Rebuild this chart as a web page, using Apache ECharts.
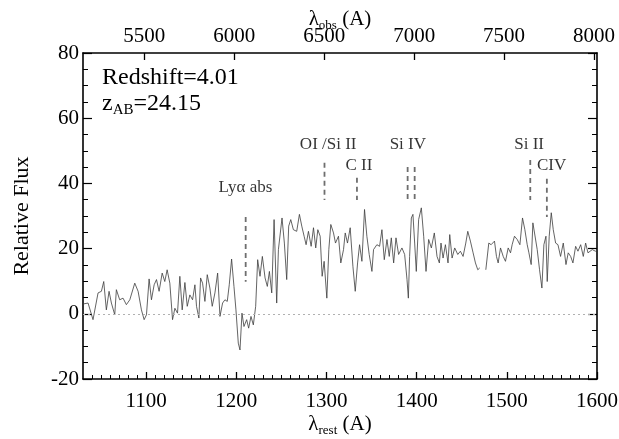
<!DOCTYPE html>
<html>
<head>
<meta charset="utf-8">
<script src="https://cdn.jsdelivr.net/npm/echarts@6/dist/echarts.min.js"></script>
<style>html,body{margin:0;padding:0;background:#fff}#c{width:619px;height:439px}</style>
</head>
<body>
<div id="c"></div>
<script>
// ---- data ----
const redshift = 4.01;
const zAB = 24.15;
const restTicks = [1100, 1200, 1300, 1400, 1500, 1600];
const obsTicks = [5500, 6000, 6500, 7000, 7500, 8000];
const restMinorTicks = [];
for (let v = 1040; v < 1600; v += 10) restMinorTicks.push(v);

const lambdaRest = [
1030,1031.9,1035.6,1041.1,1046.7,1050.4,1053.0,1055.9,1058.9,1061.5,1065.2,1067.0,1070.7,1074.4,1078.1,1081.9,1087.4,1091.1,1094.8,1097.8,
1100.4,1103.3,1105.9,1108.9,1111.5,1114.4,1117.8,1120.7,1123.3,1126.3,1129.3,1131.9,1134.8,1137.4,1140.0,1143.0,1145.6,1148.5,1151.5,1154.1,
1155.9,1158.5,1160.4,1162.6,1165.2,1167.8,1170.7,1173.3,1176.3,1179.3,1181.9,1184.8,1187.4,1190.0,1192.2,1194.8,1197.4,1199.6,1202.2,1204.1,
1206.3,1208.5,1211.5,1213.7,1216.3,1218.9,1221.5,1223.7,1226.3,1228.9,1231.9,1234.4,1236.7,1239.3,1241.9,1244.8,1246.7,1248.5,1250.7,1253.3,
1255.9,1258.1,1260.4,1263.3,1267.0,1270.0,1272.6,1275.2,1277.4,1280.0,1283.0,1285.6,1288.1,1290.4,1293.0,1295.2,1297.4,1300.4,1302.6,1304.8,
1307.8,1310.0,1313.3,1315.9,1318.9,1320.8,1323.3,1326.3,1329.3,1331.9,1334.5,1336.7,1339.3,1342.2,1344.8,1347.4,1350.4,1352.2,1355.9,1358.9,
1361.5,1364.1,1367.1,1369.6,1371.9,1374.5,1377.1,1380.0,1383.7,1386.7,1389.3,1390.8,1392.2,1394.1,1395.9,1397.8,1399.6,1402.2,1405.2,1407.8,
1410.4,1413.3,1416.3,1419.6,1422.6,1425.2,1427.0,1429.3,1431.9,1434.8,1436.7,1439.3,1442.2,1445.6,1448.5,1451.5,1454.5,1456.7,1459.6,1462.6,
1465.2,1467.8,1470.0,1473.0,1476.7,1480.0,1482.6,1486.3,1488.5,1490.4,1493.0,1496.0,1498.5,1501.5,1504.1,1505.9,1508.5,1511.5,1514.5,1517.4,
1520.0,1522.6,1524.5,1527.0,1528.9,1531.1,1533.7,1536.3,1538.9,1541.1,1543.4,1544.8,1547.0,1549.3,1551.5,1554.1,1556.7,1559.6,1562.6,1565.6,
1568.1,1570.8,1573.3,1576.3,1578.9,1581.9,1584.8,1587.4,1590.0,1592.2,1594.8,1598.2,1600
];
const flux = [
3.0,3.3,3.3,-1.8,6.4,6.9,9.9,1.2,6.9,3.3,-0.3,7.4,4.3,4.8,2.8,4.3,9.4,6.9,1.2,-1.8,
-0.3,10.7,4.3,8.9,10.5,6.9,12.5,9.9,13.5,9.4,-1.8,1.7,0.2,11.5,1.2,9.6,2.3,5.8,4.3,8.9,
2.3,-1.3,11.0,9.4,3.8,12.0,7.9,2.3,6.4,12.5,-0.8,3.3,4.3,3.8,8.9,16.8,8.4,1.2,-9.0,-11.1,
0.2,-3.9,-1.8,-4.4,-0.8,-3.4,2.3,16.6,11.5,17.6,11.0,8.4,13.0,6.4,28.9,3.3,19.7,19.2,29.4,21.7,
10.5,26.9,28.9,25.8,25.3,30.5,26.9,23.8,21.2,25.3,20.7,26.4,20.2,25.8,23.8,11.5,16.1,4.8,19.7,27.4,
24.8,21.7,23.8,15.6,19.7,24.8,21.7,26.4,14.6,6.9,15.6,21.2,16.1,32.0,23.8,18.2,13.0,19.7,21.2,20.7,
25.8,16.6,22.8,17.6,23.3,15.6,23.3,18.2,20.2,18.2,10.5,4.8,17.6,29.4,30.5,21.7,13.0,28.9,32.5,23.8,
13.0,22.8,20.2,24.8,17.6,15.6,21.7,17.1,21.2,15.6,24.3,17.1,20.2,18.2,19.2,17.6,21.7,25.3,22.3,18.7,
15.6,13.5,14.1,null,13.5,21.7,21.2,22.3,17.6,15.6,20.2,17.6,16.1,20.2,18.7,21.2,23.8,22.8,21.2,29.4,
25.8,21.2,18.7,15.1,27.9,27.4,19.7,13.5,7.9,21.2,23.8,9.9,23.8,31.0,25.8,21.7,21.2,17.6,21.7,15.1,
18.7,17.6,15.6,20.7,19.2,21.2,17.6,21.7,18.7,18.2,19.7,19.2,19.5
];

// line identification markers (rest wavelength, dashed segment top / bottom in flux units)
const markerLambda = [1210.4, 1297.8, 1333.8, 1390.0, 1397.8, 1526.0, 1544.4];
const markerTop    = [29.7, 46.3, 41.7, 45.0, 45.0, 47.2, 41.4];
const markerBottom = [9.8, 34.9, 34.9, 34.9, 34.9, 34.9, 29.7];

const lineLabelNames  = ['Lyα abs', 'OI /Si II', 'C II', 'Si IV', 'Si II', 'CIV'];
const lineLabelLambda = [1210.2, 1301.9, 1336.0, 1390.2, 1524.7, 1549.7];
const lineLabelFlux   = [38.7, 51.8, 45.6, 51.8, 51.8, 45.6];

// ---- chart ----
const FONT = 'Liberation Serif';
const xMin = 1030, xMax = 1600;
const specData = lambdaRest.map((l, i) => [l, flux[i]]);
const plain = v => String(Math.round(v));

const series = [];
series.push({
  type: 'line', data: specData, xAxisIndex: 0, yAxisIndex: 0,
  showSymbol: false, symbol: 'none', connectNulls: false, animation: false,
  lineStyle: { color: '#3c3c3c', width: 0.8 },
  markLine: {
    silent: true, symbol: 'none', animation: false,
    label: { show: false },
    lineStyle: { type: [2, 3], color: '#b0b0b0', width: 1 },
    data: [{ yAxis: 0 }]
  },
  z: 3
});
markerLambda.forEach((l, i) => {
  series.push({
    type: 'line', xAxisIndex: 0, yAxisIndex: 0, symbol: 'none', animation: false,
    data: [[l, markerTop[i]], [l, markerBottom[i]]],
    lineStyle: { color: '#6e6e6e', width: 1.8, type: [5, 4] }, z: 2
  });
});
series.push({
  type: 'scatter', xAxisIndex: 0, yAxisIndex: 0, symbolSize: 0, animation: false,
  data: lineLabelNames.map((n, i) => ({ name: n, value: [lineLabelLambda[i], lineLabelFlux[i]] })),
  label: { show: true, position: 'inside', formatter: p => p.name, color: '#000',
           fontFamily: FONT, fontSize: 17 },
  z: 5
});

const axisLineStyle = { color: '#000', width: 1.6 };
const option = {
  backgroundColor: '#fff',
  animation: false,
  grid: { left: 83, right: 22, top: 53, bottom: 60, containLabel: false, outerBoundsMode: 'none' },
  xAxis: [
    {
      type: 'value', position: 'bottom', min: xMin, max: xMax,
      axisLine: { show: true, onZero: false, lineStyle: axisLineStyle },
      axisTick: { show: true, inside: true, length: 7, lineStyle: { color: '#000', width: 1.3 }, customValues: restTicks },
      axisLabel: { show: true, customValues: restTicks, formatter: plain, color: '#000', fontFamily: FONT, fontSize: 21, margin: 12 },
      splitLine: { show: false },
      name: '{a|λ}{b|rest}{a| (A)}', nameLocation: 'middle', nameGap: 32, nameMoveOverlap: false,
      nameTextStyle: { rich: {
        a: { fontFamily: FONT, fontSize: 21, color: '#000', lineHeight: 26 },
        b: { fontFamily: FONT, fontSize: 13, color: '#000', verticalAlign: 'bottom', lineHeight: 13 }
      } }
    },
    {
      type: 'value', position: 'bottom', min: xMin, max: xMax,
      axisLine: { show: false, onZero: false },
      axisTick: { show: true, inside: true, length: 4, lineStyle: { color: '#000', width: 1 }, customValues: restMinorTicks },
      axisLabel: { show: false },
      splitLine: { show: false }
    },
    {
      type: 'value', position: 'top', min: xMin * (1 + redshift), max: xMax * (1 + redshift),
      axisLine: { show: true, onZero: false, lineStyle: axisLineStyle },
      axisTick: { show: true, inside: true, length: 7, lineStyle: { color: '#000', width: 1.3 }, customValues: obsTicks },
      axisLabel: { show: true, customValues: obsTicks, formatter: plain, color: '#000', fontFamily: FONT, fontSize: 21, margin: 6 },
      splitLine: { show: false },
      name: '{a|λ}{b|obs}{a| (A)}', nameLocation: 'middle', nameGap: 21, nameMoveOverlap: false,
      nameTextStyle: { rich: {
        a: { fontFamily: FONT, fontSize: 21, color: '#000', lineHeight: 26 },
        b: { fontFamily: FONT, fontSize: 13, color: '#000', verticalAlign: 'bottom', lineHeight: 13 }
      } }
    }
  ],
  yAxis: [
    {
      type: 'value', position: 'left', min: -20, max: 80, interval: 20,
      axisLine: { show: true, onZero: false, lineStyle: axisLineStyle },
      axisTick: { show: true, inside: true, length: 9, lineStyle: { color: '#000', width: 1.2 } },
      minorTick: { show: true, splitNumber: 4, length: 5, lineStyle: { color: '#000', width: 1 } },
      axisLabel: { color: '#000', fontFamily: FONT, fontSize: 21, margin: 4 },
      splitLine: { show: false },
      name: 'Relative Flux', nameLocation: 'middle', nameGap: 50, nameMoveOverlap: false,
      nameTextStyle: { fontFamily: FONT, fontSize: 22, color: '#000' }
    },
    {
      type: 'value', position: 'right', min: -20, max: 80, interval: 20,
      axisLine: { show: true, onZero: false, lineStyle: axisLineStyle },
      axisTick: { show: true, inside: true, length: 9, lineStyle: { color: '#000', width: 1.2 } },
      minorTick: { show: true, splitNumber: 4, length: 5, lineStyle: { color: '#000', width: 1 } },
      axisLabel: { show: false },
      splitLine: { show: false }
    }
  ],
  graphic: [
    { type: 'text', left: 102, top: 66,
      style: { text: 'Redshift=' + redshift.toFixed(2), fontFamily: FONT, fontSize: 24, fill: '#000' } },
    { type: 'text', left: 102, top: 92,
      style: { text: '{a|z}{b|AB}{a|=' + zAB.toFixed(2) + '}', fill: '#000',
        rich: {
          a: { fontFamily: FONT, fontSize: 24, lineHeight: 28, fill: '#000' },
          b: { fontFamily: FONT, fontSize: 15, lineHeight: 15, verticalAlign: 'bottom', fill: '#000' }
        } } }
  ],
  series: series
};
const chart = echarts.init(document.getElementById('c'), null, { renderer: 'canvas' });
chart.setOption(option);
</script>
</body>
</html>
